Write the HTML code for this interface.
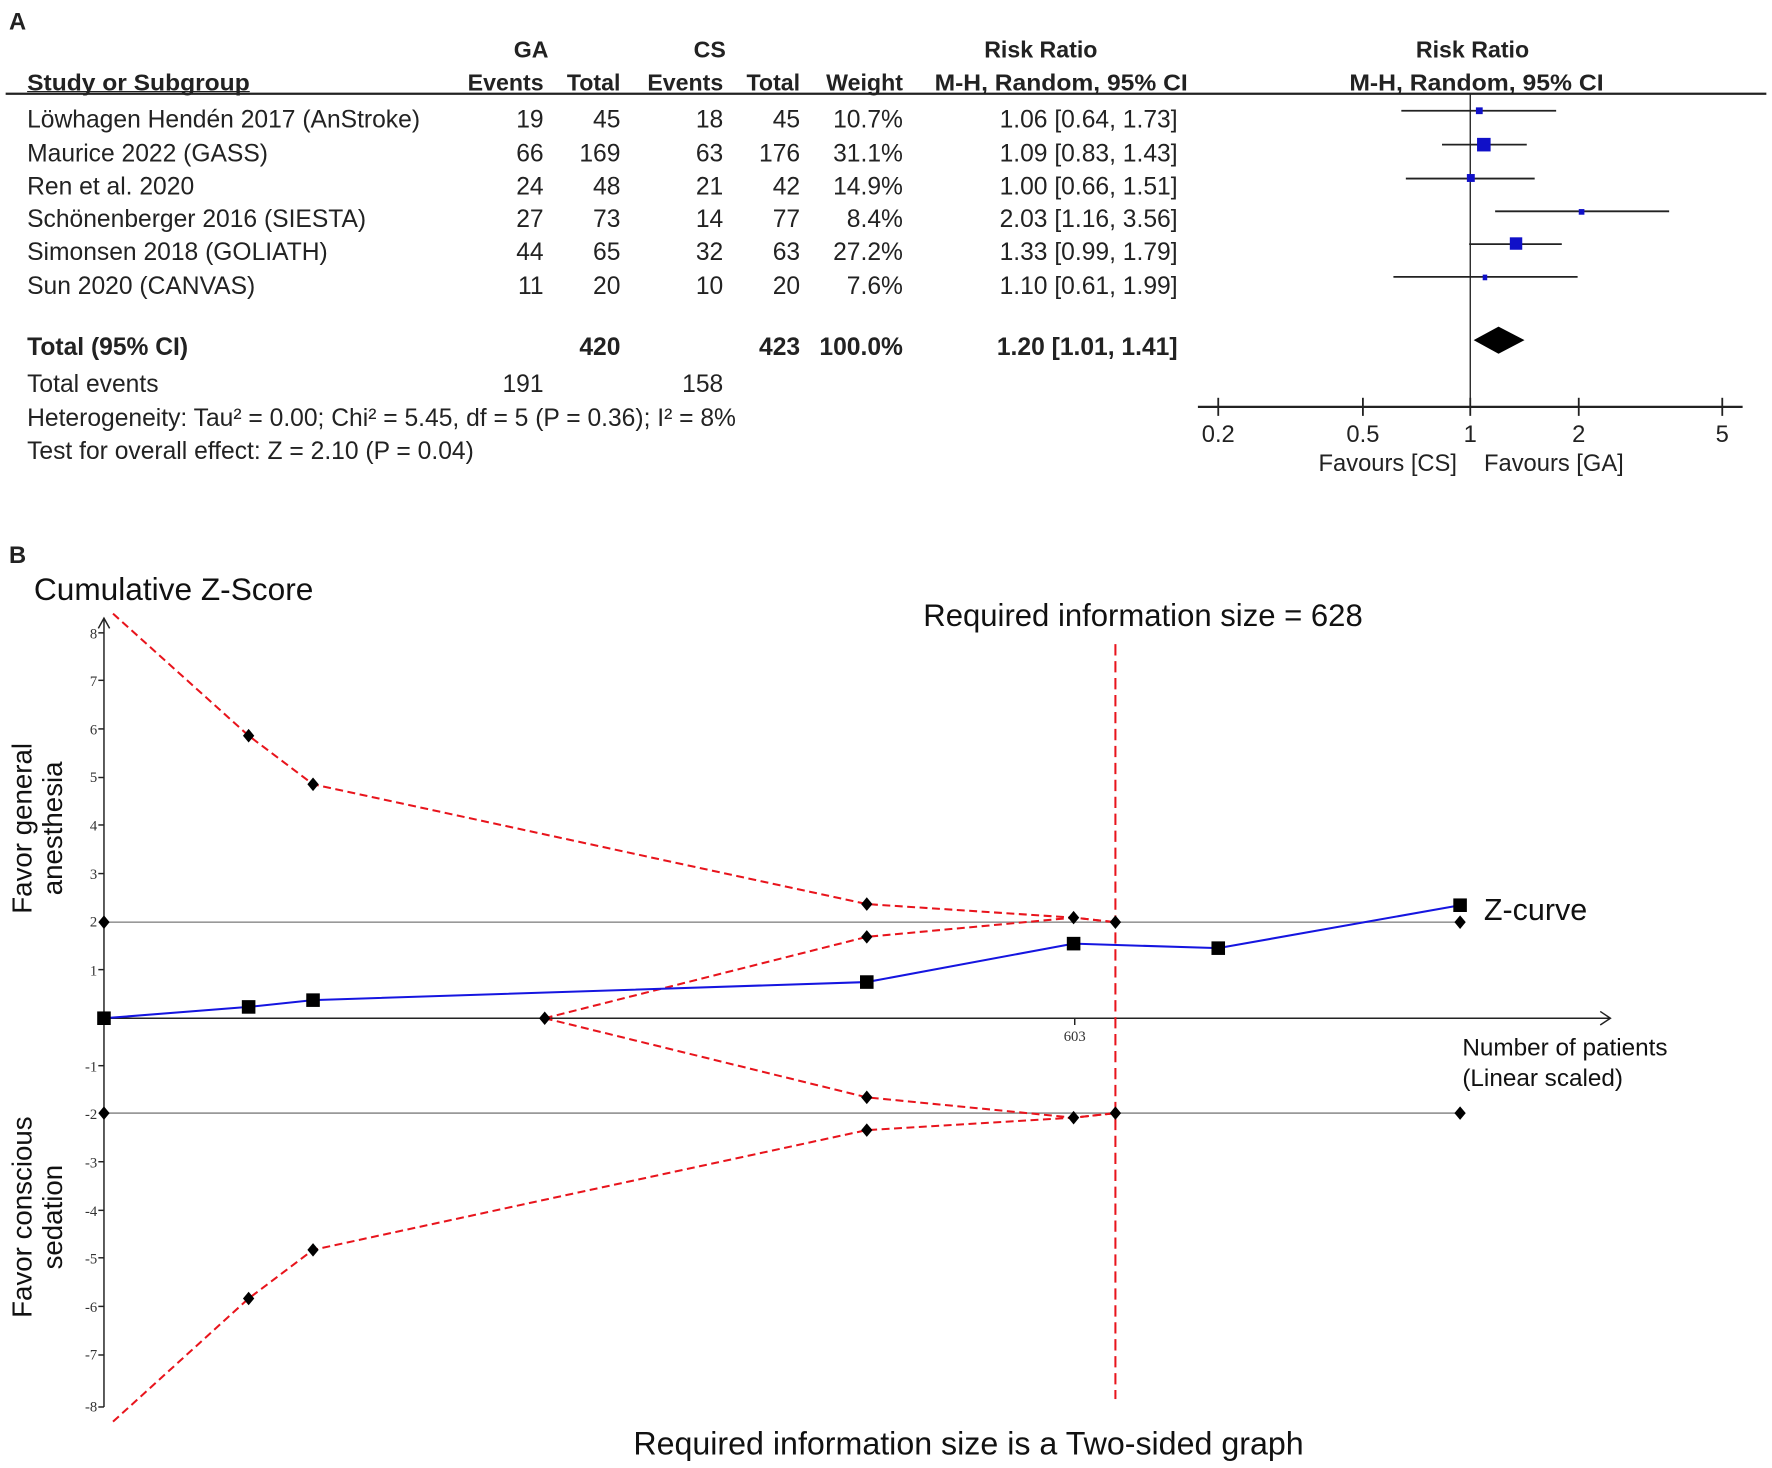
<!DOCTYPE html>
<html><head><meta charset="utf-8"><style>html,body{margin:0;padding:0;background:#fff}svg{display:block}</style></head><body>
<svg width="1772" height="1468" viewBox="0 0 1568 1299" preserveAspectRatio="none" xmlns="http://www.w3.org/2000/svg" font-family="Liberation Sans, Arial, sans-serif">
<rect width="1568" height="1299" fill="#fff"/>
<g font-size="21.8" fill="#222">
<text x="8" y="26" font-weight="bold" font-size="21">A</text>
<g font-weight="bold" text-anchor="middle" font-size="20.5">
<text x="470" y="51">GA</text><text x="628" y="51">CS</text><text x="921" y="51">Risk Ratio</text><text x="1303" y="51">Risk Ratio</text>
</g>
<g font-weight="bold" font-size="20.5">
<text x="24" y="80" textLength="197" lengthAdjust="spacingAndGlyphs">Study or Subgroup</text>
<g text-anchor="end"><text x="481" y="80">Events</text><text x="549" y="80">Total</text><text x="640" y="80">Events</text><text x="708" y="80">Total</text><text x="799" y="80">Weight</text></g>
<text x="827" y="80" textLength="224" lengthAdjust="spacingAndGlyphs">M-H, Random, 95% CI</text>
<text x="1194" y="80" textLength="225" lengthAdjust="spacingAndGlyphs">M-H, Random, 95% CI</text>
</g>
<line x1="24" y1="81" x2="221" y2="81" stroke="#222" stroke-width="1"/>
<line x1="5" y1="83" x2="1563" y2="83" stroke="#222" stroke-width="2"/>
<g>
<text x="24" y="113">Löwhagen Hendén 2017 (AnStroke)</text>
<text x="24" y="143">Maurice 2022 (GASS)</text>
<text x="24" y="172">Ren et al. 2020</text>
<text x="24" y="201">Schönenberger 2016 (SIESTA)</text>
<text x="24" y="230">Simonsen 2018 (GOLIATH)</text>
<text x="24" y="260">Sun 2020 (CANVAS)</text>
<text x="24" y="347">Total events</text>
<text x="24" y="377">Heterogeneity: Tau² = 0.00; Chi² = 5.45, df = 5 (P = 0.36); I² = 8%</text>
<text x="24" y="406">Test for overall effect: Z = 2.10 (P = 0.04)</text>
</g>
<g text-anchor="end">
<text x="481" y="113">19</text><text x="549" y="113">45</text><text x="640" y="113">18</text><text x="708" y="113">45</text><text x="799" y="113">10.7%</text><text x="1042" y="113">1.06 [0.64, 1.73]</text>
<text x="481" y="143">66</text><text x="549" y="143">169</text><text x="640" y="143">63</text><text x="708" y="143">176</text><text x="799" y="143">31.1%</text><text x="1042" y="143">1.09 [0.83, 1.43]</text>
<text x="481" y="172">24</text><text x="549" y="172">48</text><text x="640" y="172">21</text><text x="708" y="172">42</text><text x="799" y="172">14.9%</text><text x="1042" y="172">1.00 [0.66, 1.51]</text>
<text x="481" y="201">27</text><text x="549" y="201">73</text><text x="640" y="201">14</text><text x="708" y="201">77</text><text x="799" y="201">8.4%</text><text x="1042" y="201">2.03 [1.16, 3.56]</text>
<text x="481" y="230">44</text><text x="549" y="230">65</text><text x="640" y="230">32</text><text x="708" y="230">63</text><text x="799" y="230">27.2%</text><text x="1042" y="230">1.33 [0.99, 1.79]</text>
<text x="481" y="260">11</text><text x="549" y="260">20</text><text x="640" y="260">10</text><text x="708" y="260">20</text><text x="799" y="260">7.6%</text><text x="1042" y="260">1.10 [0.61, 1.99]</text>
<g font-weight="bold"><text x="24" y="314" text-anchor="start">Total (95% CI)</text><text x="549" y="314">420</text><text x="708" y="314">423</text><text x="799" y="314">100.0%</text><text x="1042" y="314">1.20 [1.01, 1.41]</text></g>
<text x="481" y="347">191</text><text x="640" y="347">158</text>
</g>
</g>
<g stroke="#222" stroke-width="1.6">
<line x1="1301" y1="83" x2="1301" y2="360" stroke-width="1.2"/>
<line x1="1240" y1="98" x2="1377" y2="98"/>
<line x1="1276" y1="128" x2="1351" y2="128"/>
<line x1="1244" y1="158" x2="1358" y2="158"/>
<line x1="1323" y1="187" x2="1477" y2="187"/>
<line x1="1300" y1="216" x2="1382" y2="216"/>
<line x1="1233" y1="245" x2="1396" y2="245"/>
<line x1="1060" y1="360" x2="1542" y2="360" stroke-width="2"/>
<line x1="1078" y1="352" x2="1078" y2="368"/><line x1="1206" y1="352" x2="1206" y2="368"/><line x1="1301" y1="352" x2="1301" y2="368"/><line x1="1397" y1="352" x2="1397" y2="368"/><line x1="1524" y1="352" x2="1524" y2="368"/>
</g>
<g fill="#1010c8">
<rect x="1306" y="95" width="6" height="6"/>
<rect x="1307" y="122" width="12" height="12"/>
<rect x="1298" y="154" width="7" height="7"/>
<rect x="1397" y="185" width="5" height="5"/>
<rect x="1336" y="210" width="11" height="11"/>
<rect x="1312" y="243" width="4" height="5"/>
</g>
<polygon points="1304,301 1326,289 1349,301 1326,313" fill="#000"/>
<g font-size="21" fill="#222" text-anchor="middle">
<text x="1078" y="391">0.2</text><text x="1206" y="391">0.5</text><text x="1301" y="391">1</text><text x="1397" y="391">2</text><text x="1524" y="391">5</text>
<text x="1228" y="417">Favours [CS]</text><text x="1375" y="417">Favours [GA]</text>
</g>
<text x="8" y="498" font-weight="bold" font-size="21" fill="#222">B</text>
<g font-size="28" fill="#111">
<text x="30" y="531">Cumulative Z-Score</text>
<text x="817" y="554" font-size="27.5">Required information size = 628</text>
<text x="857" y="1287" text-anchor="middle" font-size="28.5">Required information size is a Two-sided graph</text>
<text x="1313" y="814" font-size="27">Z-curve</text>
</g>
<g font-size="21.5" fill="#111">
<text x="1294" y="934">Number of patients</text>
<text x="1294" y="961">(Linear scaled)</text>
</g>
<g font-size="24.5" fill="#111">
<text transform="translate(28,733) rotate(-90)" text-anchor="middle">Favor general</text>
<text transform="translate(55,733) rotate(-90)" text-anchor="middle">anesthesia</text>
<text transform="translate(28,1077) rotate(-90)" text-anchor="middle">Favor conscious</text>
<text transform="translate(55,1077) rotate(-90)" text-anchor="middle">sedation</text>
</g>
<g font-family="Liberation Serif, serif" font-size="13" fill="#333" text-anchor="end">
<text x="86" y="565">8</text><text x="86" y="607">7</text><text x="86" y="650">6</text><text x="86" y="692">5</text><text x="86" y="735">4</text><text x="86" y="778">3</text><text x="86" y="820">2</text><text x="86" y="863">1</text>
<text x="86" y="948">-1</text><text x="86" y="990">-2</text><text x="86" y="1033">-3</text><text x="86" y="1076">-4</text><text x="86" y="1118">-5</text><text x="86" y="1161">-6</text><text x="86" y="1203">-7</text><text x="86" y="1249">-8</text>
<text x="951" y="921" text-anchor="middle">603</text>
</g>
<g stroke="#222" stroke-width="1.3" fill="none">
<line x1="92" y1="548" x2="92" y2="1245"/>
<polyline points="87,556 92,547 97,556"/>
<line x1="92" y1="901" x2="1425" y2="901"/>
<polyline points="1416,895 1425,901 1416,907"/>
<line x1="87" y1="560" x2="92" y2="560"/><line x1="87" y1="602" x2="92" y2="602"/><line x1="87" y1="645" x2="92" y2="645"/><line x1="87" y1="688" x2="92" y2="688"/><line x1="87" y1="730" x2="92" y2="730"/><line x1="87" y1="773" x2="92" y2="773"/><line x1="87" y1="858" x2="92" y2="858"/><line x1="87" y1="943" x2="92" y2="943"/><line x1="87" y1="1028" x2="92" y2="1028"/><line x1="87" y1="1071" x2="92" y2="1071"/><line x1="87" y1="1113" x2="92" y2="1113"/><line x1="87" y1="1156" x2="92" y2="1156"/><line x1="87" y1="1199" x2="92" y2="1199"/><line x1="87" y1="1245" x2="92" y2="1245"/>
<line x1="951" y1="901" x2="951" y2="907"/>
</g>
<g stroke="#999" stroke-width="1.5">
<line x1="92" y1="816" x2="1292" y2="816"/>
<line x1="92" y1="985" x2="1292" y2="985"/>
</g>
<g stroke="#e8141c" stroke-width="1.8" stroke-dasharray="7,4" fill="none">
<polyline points="100,543 220,651 277,694 767,800 950,812 987,816"/>
<polyline points="482,901 767,829 950,812 987,816"/>
<polyline points="482,901 767,971 950,989 987,985"/>
<polyline points="100,1258 220,1149 277,1106 767,1000 950,989 987,985"/>
<line x1="987" y1="570" x2="987" y2="1238" stroke-dasharray="10,5"/>
</g>
<polyline points="92,901 220,891 277,885 767,869 950,835 1078,839 1292,801" fill="none" stroke="#1515e0" stroke-width="1.8"/>
<g fill="#000">
<polygon points="220,645 225,651 220,657 215,651"/>
<polygon points="277,688 282,694 277,700 272,694"/>
<polygon points="767,794 772,800 767,806 762,800"/>
<polygon points="950,806 955,812 950,818 945,812"/>
<polygon points="987,810 992,816 987,822 982,816"/>
<polygon points="767,823 772,829 767,835 762,829"/>
<polygon points="92,810 97,816 92,822 87,816"/>
<polygon points="1292,810 1297,816 1292,822 1287,816"/>
<polygon points="482,895 487,901 482,907 477,901"/>
<polygon points="767,965 772,971 767,977 762,971"/>
<polygon points="950,983 955,989 950,995 945,989"/>
<polygon points="987,979 992,985 987,991 982,985"/>
<polygon points="92,979 97,985 92,991 87,985"/>
<polygon points="1292,979 1297,985 1292,991 1287,985"/>
<polygon points="767,994 772,1000 767,1006 762,1000"/>
<polygon points="220,1143 225,1149 220,1155 215,1149"/>
<polygon points="277,1100 282,1106 277,1112 272,1106"/>
<rect x="86" y="895" width="12" height="12"/>
<rect x="214" y="885" width="12" height="12"/>
<rect x="271" y="879" width="12" height="12"/>
<rect x="761" y="863" width="12" height="12"/>
<rect x="944" y="829" width="12" height="12"/>
<rect x="1072" y="833" width="12" height="12"/>
<rect x="1286" y="795" width="12" height="12"/>
</g>
</svg>
</body></html>
